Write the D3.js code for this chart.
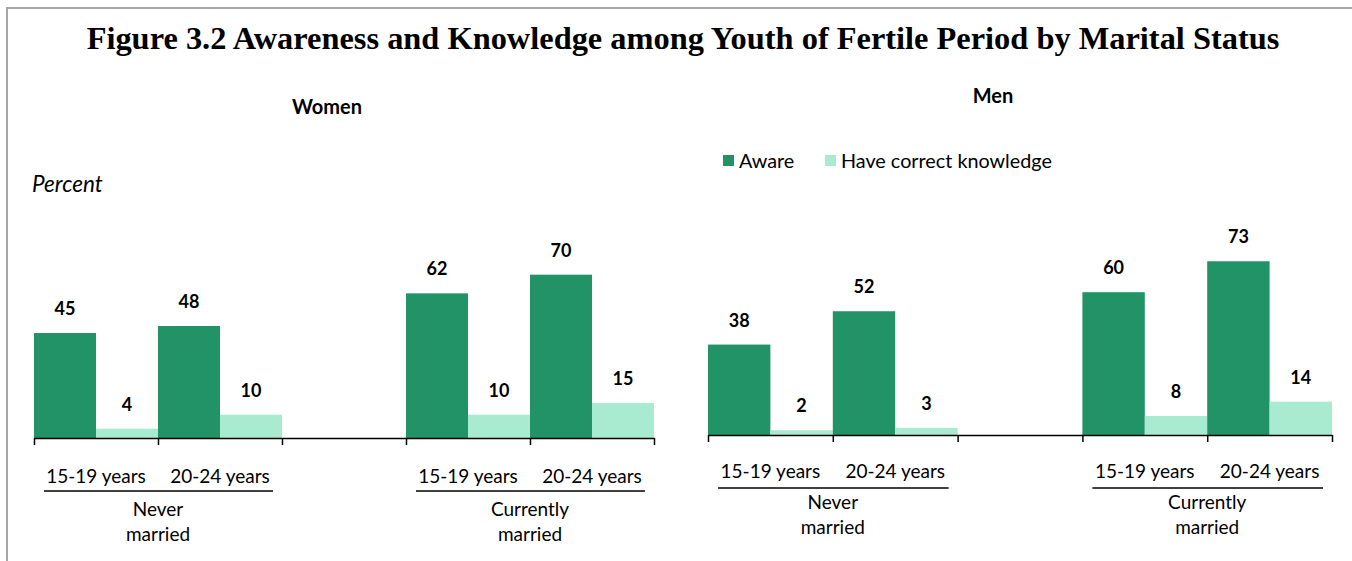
<!DOCTYPE html>
<html><head><meta charset="utf-8">
<script src="https://cdn.jsdelivr.net/npm/d3@7"></script>
<style>body{margin:0;background:#fff;}svg{display:block;}</style>
</head><body>
<script>
const title = "Figure 3.2 Awareness and Knowledge among Youth of Fertile Period by Marital Status";
const slots = ["nm1519", "nm2024", "gap", "cm1519", "cm2024"];
const barSlots = ["nm1519", "nm2024", "cm1519", "cm2024"];
const ageLabels = ["15-19 years", "20-24 years", "15-19 years", "20-24 years"];
const groupLabels = [["Never", "married"], ["Currently", "married"]];
const seriesNames = ["Aware", "Have correct knowledge"];
const womenAware = [45, 48, 62, 70];
const womenKnowledge = [4, 10, 10, 15];
const menAware = [38, 52, 60, 73];
const menKnowledge = [2, 3, 8, 14];
const colors = ["#229267", "#a9ebd1"];

const W = 1352, H = 561;
const svg = d3.select("body").append("svg").attr("width", W).attr("height", H);
const sans = "Lato, 'Open Sans', sans-serif";

// frame
svg.append("path").attr("d", `M7,${H} L7,8 L${W},8`).attr("fill", "none").attr("stroke", "#a6a6a6").attr("stroke-width", 2);

svg.append("text").attr("x", 683).attr("y", 49).attr("text-anchor", "middle")
  .attr("font-family", "'Liberation Serif', 'Times New Roman', serif").attr("font-weight", "bold")
  .attr("font-size", 32.4).text(title);

svg.append("text").attr("x", 32).attr("y", 192).attr("font-family", sans).attr("font-style", "italic")
  .attr("font-size", 22.5).text("Percent");

function panel(cfg) {
  const g = svg.append("g");
  const x = d3.scaleBand().domain(slots).range([cfg.x0, cfg.x1]).padding(0);
  const xs = d3.scaleBand().domain([0, 1]).range([0, x.bandwidth()]).padding(0);
  const y = d3.scaleLinear().domain([0, 100]).range([cfg.base, cfg.base - cfg.pxPer100]);
  const idx = d3.scaleLinear().domain([0, slots.length]).range([cfg.x0, cfg.x1]);

  g.append("text").attr("x", cfg.titleX).attr("y", cfg.titleY).attr("text-anchor", "middle")
    .attr("font-family", sans).attr("font-weight", "bold").attr("font-size", 20).text(cfg.name);

  const rows = barSlots.map((s, i) => ({ s, i, vals: [cfg.aware[i], cfg.know[i]] }));
  rows.forEach(r => {
    r.vals.forEach((v, k) => {
      const bx = x(r.s) + xs(k);
      g.append("rect").attr("x", bx).attr("width", xs.bandwidth()).attr("y", y(v))
        .attr("height", y(0) - y(v)).attr("fill", colors[k]);
      g.append("text").attr("x", bx + xs.bandwidth() / 2).attr("y", y(v) - 18)
        .attr("text-anchor", "middle").attr("font-family", sans).attr("font-weight", "bold")
        .attr("font-size", 18).text(v);
    });
  });

  const ax = g.append("g").attr("transform", `translate(0,${cfg.base})`)
    .call(d3.axisBottom(idx).tickValues(d3.range(slots.length + 1)).tickSize(7).tickSizeOuter(0).tickFormat(""));
  ax.select(".domain").attr("stroke", "#000").attr("stroke-width", 1.5);
  ax.selectAll(".tick line").attr("stroke", "#000").attr("stroke-width", 1.5);

  // age labels
  barSlots.forEach((s, i) => {
    g.append("text").attr("x", x(s) + x.bandwidth() / 2).attr("y", cfg.base + cfg.ageDy)
      .attr("text-anchor", "middle").attr("font-family", sans).attr("font-size", 19).text(ageLabels[i]);
  });
  // group underline + labels
  [[0, 1], [2, 3]].forEach((pair, gi) => {
    const a = x(barSlots[pair[0]]), b = x(barSlots[pair[1]]) + x.bandwidth();
    g.append("line").attr("x1", a + 10).attr("x2", b - 9).attr("y1", cfg.base + cfg.lineDy).attr("y2", cfg.base + cfg.lineDy)
      .attr("stroke", "#000").attr("stroke-width", 1.5);
    groupLabels[gi].forEach((t, li) => {
      g.append("text").attr("x", (a + b) / 2).attr("y", cfg.base + cfg.grpDy + li * 25)
        .attr("text-anchor", "middle").attr("font-family", sans).attr("font-size", 19).text(t);
    });
  });
}

panel({ name: "Women", titleX: 327, titleY: 114, x0: 34, x1: 654, base: 438, pxPer100: 233.3,
  aware: womenAware, know: womenKnowledge, ageDy: 45, lineDy: 53, grpDy: 78 });
panel({ name: "Men", titleX: 993, titleY: 103, x0: 708, x1: 1332, base: 435, pxPer100: 238,
  aware: menAware, know: menKnowledge, ageDy: 43, lineDy: 53, grpDy: 74 });

// legend
const leg = svg.append("g");
const legX = [723, 825];
seriesNames.forEach((n, k) => {
  leg.append("rect").attr("x", legX[k]).attr("y", 155).attr("width", 11).attr("height", 11).attr("fill", colors[k]);
  leg.append("text").attr("x", legX[k] + 16).attr("y", 168).attr("font-family", sans).attr("font-size", 19.8).text(n);
});
</script>
</body></html>
